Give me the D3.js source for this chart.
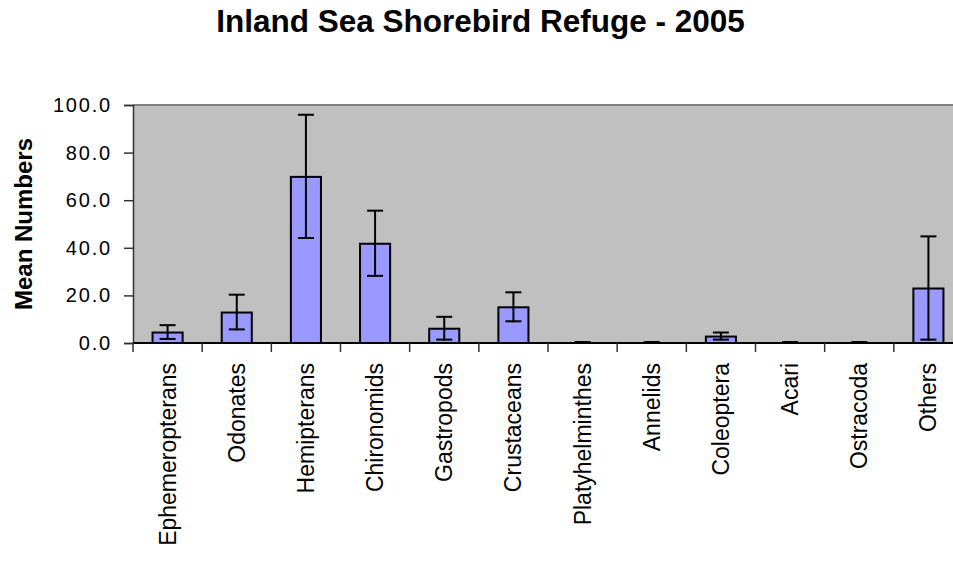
<!DOCTYPE html>
<html>
<head>
<meta charset="utf-8">
<script src="https://cdn.jsdelivr.net/npm/d3@7"></script>
<style>
  body { margin: 0; background: #fff; }
  svg { display: block; font-family: "Liberation Sans", Arial, sans-serif; }
  .tick text { fill: #000; }
</style>
</head>
<body>
<svg></svg>
<script>
const categories = ['Ephemeropterans', 'Odonates', 'Hemipterans', 'Chironomids', 'Gastropods', 'Crustaceans',
  'Platyhelminthes', 'Annelids', 'Coleoptera', 'Acari', 'Ostracoda', 'Others'];
const means = [4.4, 12.8, 69.8, 41.7, 6.0, 15.0, 0, 0, 2.7, 0, 0, 22.9];
const errors = [3.1, 7.5, 26.1, 13.9, 5.0, 6.3, 0, 0, 1.7, 0, 0, 21.9];
const yTicks = [0, 20, 40, 60, 80, 100];

const width = 953;
const height = 566;
const margin = { top: 105, left: 133, bottom: 223 };
const plotRight = 963;

const data = categories.map((c, i) => ({ name: c, mean: means[i], err: errors[i] }));

const svg = d3.select('svg')
  .attr('width', width)
  .attr('height', height);

const x = d3.scaleBand()
  .domain(categories)
  .range([margin.left, plotRight])
  .padding(0);

const y = d3.scaleLinear()
  .domain([0, 100])
  .range([height - margin.bottom, margin.top]);

const barW = x.bandwidth() * 0.435;
const capW = 16;

// plot background
svg.append('rect')
  .attr('x', margin.left)
  .attr('y', y(100))
  .attr('width', plotRight - margin.left)
  .attr('height', y(0) - y(100))
  .attr('fill', '#c0c0c0');

svg.append('line')
  .attr('x1', margin.left)
  .attr('x2', plotRight)
  .attr('y1', y(100))
  .attr('y2', y(100))
  .attr('stroke', '#808080')
  .attr('stroke-width', 2);

// bars
svg.selectAll('.bar')
  .data(data.filter(d => d.mean > 0))
  .enter()
  .append('rect')
  .attr('class', 'bar')
  .attr('x', d => x(d.name) + (x.bandwidth() - barW) / 2)
  .attr('y', d => y(d.mean))
  .attr('width', barW)
  .attr('height', d => y(0) - y(d.mean))
  .attr('fill', '#9999ff')
  .attr('stroke', '#000')
  .attr('stroke-width', 2);

// error bars
const eb = svg.selectAll('.err')
  .data(data)
  .enter()
  .append('g')
  .attr('class', 'err')
  .attr('stroke', '#000')
  .attr('stroke-width', 2);

eb.append('line')
  .attr('x1', d => x(d.name) + x.bandwidth() / 2)
  .attr('x2', d => x(d.name) + x.bandwidth() / 2)
  .attr('y1', d => y(d.mean + d.err))
  .attr('y2', d => y(Math.max(0, d.mean - d.err)));

eb.append('line')
  .attr('x1', d => x(d.name) + x.bandwidth() / 2 - capW / 2)
  .attr('x2', d => x(d.name) + x.bandwidth() / 2 + capW / 2)
  .attr('y1', d => y(d.mean + d.err))
  .attr('y2', d => y(d.mean + d.err));

eb.append('line')
  .attr('x1', d => x(d.name) + x.bandwidth() / 2 - capW / 2)
  .attr('x2', d => x(d.name) + x.bandwidth() / 2 + capW / 2)
  .attr('y1', d => y(Math.max(0, d.mean - d.err)) - 1)
  .attr('y2', d => y(Math.max(0, d.mean - d.err)) - 1);

// y axis
const yAxis = svg.append('g')
  .attr('transform', `translate(${margin.left},0)`)
  .call(d3.axisLeft(y).tickValues(yTicks).tickFormat(d3.format('.1f')).tickSize(9).tickPadding(12));

yAxis.selectAll('line, path').attr('stroke', '#333').attr('stroke-width', 1.5);
yAxis.selectAll('text')
  .attr('font-size', 20)
  .attr('letter-spacing', '1.8px')
  .attr('font-family', '"Liberation Sans", Arial, sans-serif');

// x axis: ticks at band boundaries
const xAxis = svg.append('g')
  .attr('transform', `translate(0,${y(0)})`);

xAxis.append('line')
  .attr('x1', margin.left)
  .attr('x2', plotRight)
  .attr('stroke', '#000')
  .attr('stroke-width', 2);

xAxis.selectAll('.xtick')
  .data(categories)
  .enter()
  .append('line')
  .attr('x1', d => x(d))
  .attr('x2', d => x(d))
  .attr('y1', 0)
  .attr('y2', 9)
  .attr('stroke', '#333')
  .attr('stroke-width', 1.5);

xAxis.selectAll('.xlabel')
  .data(categories)
  .enter()
  .append('text')
  .attr('transform', d => `translate(${x(d) + x.bandwidth() / 2},20) rotate(-90)`)
  .attr('dy', '0.35em')
  .attr('text-anchor', 'end')
  .attr('font-size', 23)
  .attr('fill', '#000')
  .text(d => d);

// y axis title
svg.append('text')
  .attr('transform', `translate(32,224) rotate(-90)`)
  .attr('text-anchor', 'middle')
  .attr('font-size', 24)
  .attr('font-weight', 'bold')
  .attr('fill', '#000')
  .text('Mean Numbers');

// chart title
svg.append('text')
  .attr('x', 480.5)
  .attr('y', 32)
  .attr('text-anchor', 'middle')
  .attr('font-size', 31.5)
  .attr('font-weight', 'bold')
  .attr('fill', '#000')
  .text('Inland Sea Shorebird Refuge - 2005');
</script>
</body>
</html>
